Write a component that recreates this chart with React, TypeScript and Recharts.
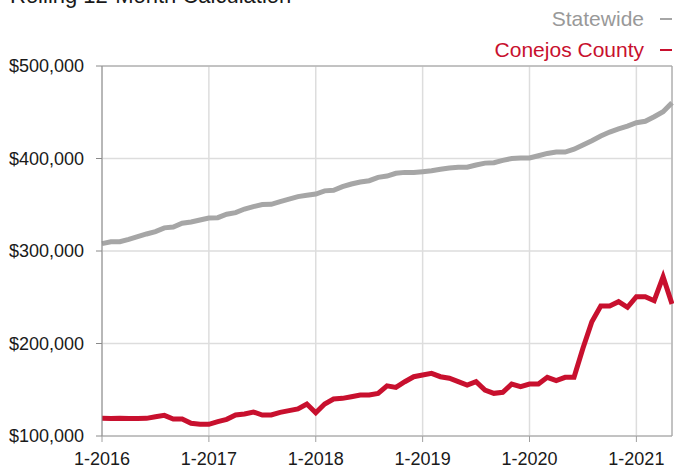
import { LineChart, Line, XAxis, YAxis, CartesianGrid, ReferenceLine } from 'recharts';

const C = {
  state: '#a6a6a6',
  county: '#c8102e',
  grid: '#dddddd',
  axis: '#8a8a8a',
  frame: '#a0a0a0',
  ink: '#1a1a1a',
};

const FONT = '"Liberation Sans", Arial, Helvetica, sans-serif';

// monthly, 1-2016 .. 5-2021
const YEARS = [2016, 2017, 2018, 2019, 2020, 2021];

const statewide = [
  308, 310, 310, 312.6, 315.5, 318.4, 321, 325, 326, 330, 331.4, 333.5,
  335.7, 336, 339.7, 341.5, 345.4, 348, 350.2, 350.5, 353.4, 356, 358.8, 360.2,
  361.6, 365, 365.6, 369.5, 372.4, 374.6, 376, 379.6, 381, 384, 385, 385,
  385.8, 386.8, 388.3, 389.7, 390.5, 390.5, 393, 395, 395.5, 398, 400, 400.5,
  400.5, 403, 405.5, 407, 407, 410, 414.6, 419.3, 424.3, 428.6, 432, 435,
  438.7, 440.2, 445.2, 450.6, 460.4,
];

const conejos = [
  119.1, 119, 119.2, 119, 119, 119.1, 120.9, 122.3, 118.4, 118.4, 113.7, 112.6,
  112.6, 115.5, 118, 122.7, 123.8, 125.9, 122.7, 122.7, 125.5, 127.4, 129.2, 134.6,
  125.2, 134.6, 140, 140.7, 142.5, 144.3, 144.3, 146.1, 154.2, 152.6, 158.7, 164.1,
  165.9, 167.7, 164.1, 162.4, 158.7, 155.1, 158.7, 149.7, 146.1, 147.2, 156.2, 153.3,
  156.2, 156.2, 163.4, 159.8, 163.4, 163.4, 194.8, 223.6, 240.5, 240.5, 245.2, 239.1,
  250.6, 250.6, 246.3, 272.2, 242.7,
];

const yTicks = [100000, 200000, 300000, 400000, 500000];
const xTicks = [0, 12, 24, 36, 48, 60];

const months: string[] = [];
YEARS.forEach((y) => {
  for (let m = 1; m <= 12; m++) months.push(`${m}-${y}`);
});

const data = statewide.map((s, i) => ({
  idx: i,
  month: months[i],
  statewide: s * 1000,
  conejos: conejos[i] * 1000,
}));

const fmtMoney = (v: number) => `$${v.toLocaleString('en-US')}`;

export default function App() {
  return (
    <div style={{ position: 'absolute', left: 0, top: 0, width: 674, height: 468, background: '#fff', overflow: 'hidden', fontFamily: FONT }}>
      {/* title, mostly cut off at the top like the source */}
      <div style={{ position: 'absolute', left: 10, top: -15, fontSize: 22, lineHeight: '22px', color: C.ink, whiteSpace: 'nowrap' }}>
        Rolling 12-Month Calculation
      </div>

      {/* legend */}
      <div style={{ position: 'absolute', right: 2, top: 3, fontSize: 21 }}>
        {[
          { label: 'Statewide', color: C.state, text: '#999999' },
          { label: 'Conejos County', color: C.county, text: C.county },
        ].map((r) => (
          <div key={r.label} style={{ display: 'flex', alignItems: 'center', justifyContent: 'flex-end', height: 31, lineHeight: '31px' }}>
            <span style={{ color: r.text }}>{r.label}</span>
            <span style={{ display: 'inline-block', width: 12, height: 2, background: r.color, marginLeft: 16 }} />
          </div>
        ))}
      </div>

      <LineChart width={674} height={468} data={data} margin={{ top: 66, right: 2, bottom: 0, left: 0 }}>
        <CartesianGrid stroke={C.grid} strokeWidth={1.5} />
        <XAxis
          dataKey="idx"
          type="number"
          domain={[0, 64]}
          ticks={xTicks}
          tickFormatter={(v: number) => months[v]}
          height={32}
          tickSize={6}
          tickMargin={10}
          stroke={C.frame}
          tick={{ fontSize: 18, fill: C.ink, fontFamily: FONT }}
        />
        <YAxis
          domain={[100000, 500000]}
          ticks={yTicks}
          tickFormatter={fmtMoney}
          width={102}
          tickSize={6}
          tickMargin={12}
          stroke={C.axis}
          tick={{ fontSize: 18, fill: C.ink, fontFamily: FONT }}
        />
        <ReferenceLine y={500000} stroke={C.frame} />
        <ReferenceLine x={64} stroke={C.frame} />
        <Line type="linear" dataKey="statewide" stroke={C.state} strokeWidth={5} dot={false} isAnimationActive={false} />
        <Line type="linear" dataKey="conejos" stroke={C.county} strokeWidth={5} dot={false} isAnimationActive={false} />
      </LineChart>
    </div>
  );
}
